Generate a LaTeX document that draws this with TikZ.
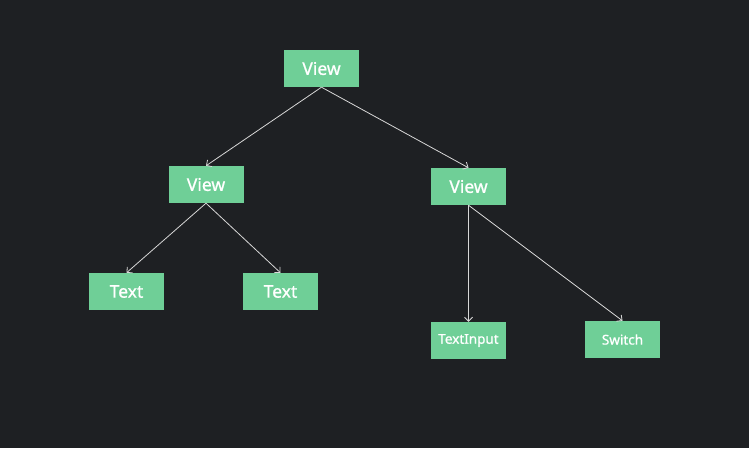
\documentclass[tikz,border=0pt]{standalone}
\usepackage{fontspec}
\setmainfont{Noto Sans}
\newfontfamily\medfont{Noto Sans}[FakeBold=0.9]
\usetikzlibrary{arrows.meta}
\definecolor{bgc}{HTML}{1E2023}
\definecolor{boxc}{HTML}{6FCF97}
\definecolor{linec}{HTML}{D8D8D8}
\tikzset{
  box/.style={fill=boxc, draw=none, minimum width=75pt, minimum height=37pt, inner sep=0pt, text=white, font=\medfont\fontsize{17.5}{20}\selectfont},
  smallbox/.style={box, font=\medfont\fontsize{13.5}{15}\selectfont},
  link/.style={draw=linec, line width=0.8pt, -{Straight Barb[length=4pt,width=8pt,line width=0.8pt]}}
}
\begin{document}
\begin{tikzpicture}[x=1pt,y=-1pt]
\fill[bgc] (0,0) rectangle (749,448);
\useasboundingbox (0,0) rectangle (749,448);
\node[box] (top) at (321.5,68.5) {View};
\node[box] (lv) at (206,184.5) {View};
\node[box] (rv) at (468.5,186.5) {View};
\node[box] (t1) at (126.5,291.5) {Text};
\node[box] (t2) at (280.5,291.5) {Text};
\node[smallbox] (ti) at (468.5,340.5) {TextInput};
\node[smallbox] (sw) at (622.5,339.5) {Switch};
\draw[link] (top.south) -- (lv.north);
\draw[link] (top.south) -- (rv.north);
\draw[link] (lv.south) -- (t1.north);
\draw[link] (lv.south) -- (t2.north);
\draw[link] (rv.south) -- (ti.north);
\draw[link] (rv.south) -- (sw.north);
\end{tikzpicture}
\end{document}
